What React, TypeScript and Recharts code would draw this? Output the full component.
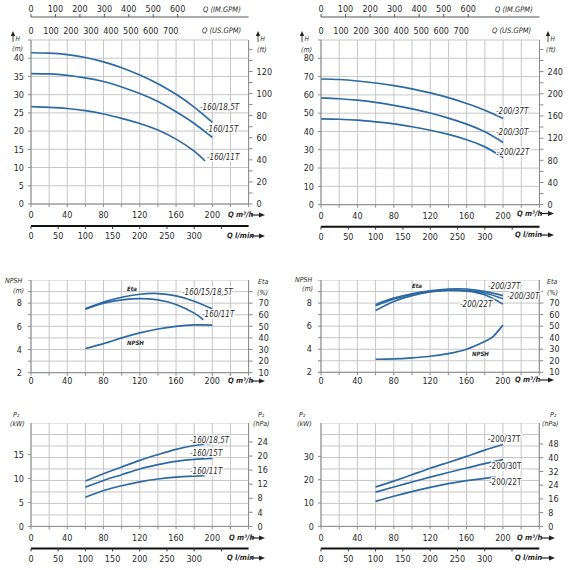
import React from 'react';
import { LineChart, Line, XAxis, YAxis, CartesianGrid } from 'recharts';

// flow points, m3/h
const qH = [0, 20, 40, 60, 80, 100, 120, 140, 160, 180, 200];
const qH11 = [0, 20, 40, 60, 80, 100, 120, 140, 160, 180, 192];
const qE = [60, 80, 100, 120, 140, 160, 180, 200];
const qE11 = [60, 80, 100, 120, 140, 160, 180, 190];
const qNpsh200 = [60, 80, 100, 120, 140, 160, 180, 190, 200];
const qP11 = [60, 80, 100, 120, 140, 160, 180, 192];

// head, m
const h160_185 = [41.5, 41.4, 41.0, 40.2, 39.0, 37.4, 35.4, 33.0, 30.1, 26.6, 22.4];
const h160_15 = [35.8, 35.7, 35.3, 34.6, 33.6, 32.1, 30.3, 28.1, 25.3, 22.1, 18.3];
const h160_11 = [26.7, 26.5, 26.2, 25.6, 24.7, 23.5, 22.1, 20.3, 17.8, 14.5, 11.8];
const h200_37 = [68.7, 68.4, 67.6, 66.5, 65.1, 63.3, 61.1, 58.5, 55.3, 51.6, 47.1];
const h200_30 = [58.4, 57.9, 57.1, 55.9, 54.3, 52.4, 50.1, 47.3, 44.0, 39.8, 34.0];
const h200_22 = [46.9, 46.7, 46.2, 45.3, 44.2, 42.6, 40.7, 38.4, 35.5, 31.6, 25.8];

// efficiency, %
const eta160_15 = [65.1, 70.9, 75.1, 77.7, 78.3, 76.3, 71.7, 65.1];
const eta160_11 = [64.9, 70.0, 72.9, 74.0, 72.9, 68.9, 61.4, 55.7];
const eta200_37 = [68.8, 74.3, 78.1, 80.7, 82.2, 82.2, 80.1, 76.4];
const eta200_30 = [67.7, 73.5, 77.5, 80.1, 81.3, 81.0, 78.7, 73.8];
const eta200_22 = [63.6, 71.4, 76.4, 79.6, 81.0, 80.4, 77.2, 69.1];

// NPSH, m
const npsh160 = [4.09, 4.51, 5.0, 5.43, 5.77, 6.0, 6.12, 6.11];
const npsh200 = [3.13, 3.16, 3.25, 3.39, 3.62, 4.0, 4.67, 5.16, 6.09];

// shaft power P2, kW
const p160_185 = [9.5, 11.0, 12.4, 13.8, 15.0, 16.1, 16.9, 17.4];
const p160_15 = [8.2, 9.6, 10.8, 12.0, 12.9, 13.6, 14.0, 14.2];
const p160_11 = [6.1, 7.5, 8.5, 9.3, 9.9, 10.3, 10.5, 10.6];
const p200_37 = [16.9, 19.4, 22.1, 24.9, 27.4, 30.0, 32.7, 35.1];
const p200_30 = [14.7, 16.9, 19.0, 21.1, 23.1, 25.0, 26.9, 28.6];
const p200_22 = [10.7, 12.9, 14.9, 16.7, 18.3, 19.6, 20.6, 21.1];

// tick lists
const qTicks = [0, 20, 40, 60, 80, 100, 120, 140, 160, 180, 200, 220, 240];
const lminTicks = [0, 50, 100, 150, 200, 250, 300, 350];
const imTicks = [0, 100, 200, 300, 400, 500, 600];
const usTicks = [0, 100, 200, 300, 400, 500, 600, 700];

const IM_MAX = 890;
const US_MAX = 1090;
const LMIN_MAX = 400;

const pts = (q: number[], v: number[]) => q.map((x, i) => ({ q: x, v: v[i] }));

const FONT = "'Liberation Sans Narrow', 'DejaVu Sans Condensed', 'Arial Narrow', sans-serif";
const CURVE = '#2d6aa3';
const GRID = '#c6c6c6';
const AX = '#8a8a8a';
const TXT = '#2a2a2a';
const LW = 32;
const RW = 32;

// axis ids are named so that both id order and declaration order
// put "a_" axes next to the plot
const Q_ID = 'a_q';
const LMIN_ID = 'b_lmin';
const US_ID = 'a_us';
const IM_ID = 'b_im';

type AxisCfg = {
  domain: [number, number];
  ticks: number[];
  fmt: (v: number) => string;
  size: number;
  margin: number;
};

type PanelCfg = {
  x0: number; x1: number; y0: number; y1: number;
  gpm: boolean;
  lmin: boolean;
  qGap: [number, number];
  hDiv: number;
  left: AxisCfg;
  right: AxisCfg;
  series: { data: { q: number; v: number }[]; axis: 'l' | 'r' }[];
};

const tickStyle = { fontSize: 9, fill: TXT, fontFamily: FONT };

// invisible span so that the secondary flow axes get a domain
const HiddenSpan = ({ id, max, y }: { id: string; max: number; y: number }) => (
  <Line key={'h' + id} xAxisId={id} yAxisId="l" data={[{ q: 0, v: y }, { q: max, v: y }]} dataKey="v"
    stroke="none" dot={false} activeDot={false} legendType="none" isAnimationActive={false} />
);

const Panel = ({ c }: { c: PanelCfg }) => {
  const topH = c.gpm ? 40 : 0;
  const botH = c.lmin ? 22 + 16 : 20;
  const pw = c.x1 - c.x0;
  const ph = c.y1 - c.y0;
  const vPts = Array.from({ length: 13 }, (_, i) => LW + (pw * i) / 12);
  const hPts = Array.from({ length: c.hDiv + 1 }, (_, i) => topH + (ph * i) / c.hDiv);
  const y = c.left.domain[0];
  return (
    <div style={{ position: 'absolute', left: c.x0 - LW, top: c.y0 - topH }}>
      <LineChart
        width={pw + LW + RW}
        height={ph + topH + botH}
        margin={{ top: 0, right: 0, bottom: 0, left: 0 }}
        style={{ overflow: 'visible' }}
      >
        <CartesianGrid stroke={GRID} verticalPoints={vPts} horizontalPoints={hPts} />
        {c.gpm && (
          <XAxis xAxisId={IM_ID} dataKey="q" orientation="top" type="number" domain={[0, IM_MAX]} ticks={imTicks}
            interval={0} height={17} axisLine={{ stroke: '#555' }} tickLine={{ stroke: '#555' }}
            tickSize={3} tickMargin={2} tick={tickStyle} allowDataOverflow />
        )}
        {c.gpm && (
          <XAxis xAxisId={US_ID} dataKey="q" orientation="top" type="number" domain={[0, US_MAX]} ticks={usTicks}
            interval={0} height={23} axisLine={false} tickLine={false} tickSize={0} tickMargin={6}
            tick={tickStyle} allowDataOverflow />
        )}
        {c.lmin && (
          <XAxis xAxisId={LMIN_ID} dataKey="q" type="number" domain={[0, LMIN_MAX]} ticks={lminTicks} interval={0}
            height={16} axisLine={{ stroke: '#111', strokeWidth: 2 }} tickLine={{ stroke: '#333' }}
            tickSize={3} tickMargin={4} tick={tickStyle} allowDataOverflow
            tickFormatter={(v: number) => (v <= 300 ? String(v) : '')} />
        )}
        <XAxis xAxisId={Q_ID} dataKey="q" type="number" domain={[0, 240]} ticks={qTicks} interval={0}
          height={c.lmin ? 22 : 20} axisLine={{ stroke: AX }} tickLine={{ stroke: AX }}
          tickSize={c.qGap[0]} tickMargin={c.qGap[1]} tick={tickStyle} allowDataOverflow
          tickFormatter={(v: number) => (v % 40 === 0 && v <= 200 ? String(v) : '')} />
        <YAxis yAxisId="l" orientation="left" type="number" width={LW} domain={c.left.domain}
          ticks={c.left.ticks} interval={0} axisLine={{ stroke: AX }} tickLine={{ stroke: AX }}
          tickSize={c.left.size} tickMargin={c.left.margin} tick={tickStyle}
          tickFormatter={c.left.fmt} allowDataOverflow />
        <YAxis yAxisId="r" orientation="right" type="number" width={RW} domain={c.right.domain}
          ticks={c.right.ticks} interval={0} axisLine={{ stroke: AX }} tickLine={{ stroke: AX }}
          tickSize={c.right.size} tickMargin={c.right.margin} tick={tickStyle}
          tickFormatter={c.right.fmt} allowDataOverflow />
        {c.gpm && HiddenSpan({ id: US_ID, max: US_MAX, y })}
        {c.gpm && HiddenSpan({ id: IM_ID, max: IM_MAX, y })}
        {c.lmin && HiddenSpan({ id: LMIN_ID, max: LMIN_MAX, y })}
        {c.series.map((s, i) => (
          <Line key={i} xAxisId={Q_ID} yAxisId={s.axis} data={s.data} dataKey="v" type="natural"
            stroke={CURVE} strokeWidth={1.7} dot={false} activeDot={false} isAnimationActive={false} />
        ))}
      </LineChart>
    </div>
  );
};

const range = (a: number, b: number, s: number) => {
  const out: number[] = [];
  for (let v = a; v <= b + 1e-9; v += s) out.push(v);
  return out;
};

const panels: PanelCfg[] = [
  {
    x0: 30.7, x1: 248.3, y0: 40, y1: 204, gpm: true, lmin: true, qGap: [3, 5], hDiv: 9,
    left: { domain: [0, 45], ticks: range(0, 45, 5), fmt: v => (v <= 40 ? String(v) : ''), size: 3, margin: 4 },
    right: { domain: [0, 148.5], ticks: range(0, 140, 10), fmt: v => (v % 20 === 0 && v <= 120 ? String(v) : ''), size: 4, margin: 4 },
    series: [
      { data: pts(qH, h160_185), axis: 'l' },
      { data: pts(qH, h160_15), axis: 'l' },
      { data: pts(qH11, h160_11), axis: 'l' },
    ],
  },
  {
    x0: 320.5, x1: 539, y0: 40, y1: 204.7, gpm: true, lmin: true, qGap: [3, 5], hDiv: 9,
    left: { domain: [0, 90], ticks: range(0, 90, 10), fmt: v => (v <= 80 ? String(v) : ''), size: 3, margin: 4 },
    right: { domain: [0, 297], ticks: range(0, 280, 20), fmt: v => (v % 40 === 0 && v <= 240 ? String(v) : ''), size: 4, margin: 4 },
    series: [
      { data: pts(qH, h200_37), axis: 'l' },
      { data: pts(qH, h200_30), axis: 'l' },
      { data: pts(qH, h200_22), axis: 'l' },
    ],
  },
  {
    x0: 30.7, x1: 248.3, y0: 280, y1: 372.7, gpm: false, lmin: false, qGap: [3, 2], hDiv: 8,
    left: { domain: [2, 10], ticks: range(2, 10, 1), fmt: v => (v % 2 === 0 && v <= 8 ? String(v) : ''), size: 3, margin: 6 },
    right: { domain: [10, 90], ticks: range(10, 80, 10), fmt: v => (v <= 70 ? String(v) : ''), size: 4, margin: 6 },
    series: [
      { data: pts(qE, eta160_15), axis: 'r' },
      { data: pts(qE11, eta160_11), axis: 'r' },
      { data: pts(qE, npsh160), axis: 'l' },
    ],
  },
  {
    x0: 320.7, x1: 539, y0: 280, y1: 372.3, gpm: false, lmin: false, qGap: [3, 2], hDiv: 8,
    left: { domain: [2, 10], ticks: range(2, 10, 1), fmt: v => (v % 2 === 0 && v <= 8 ? String(v) : ''), size: 3, margin: 6 },
    right: { domain: [10, 90], ticks: range(10, 80, 10), fmt: v => (v <= 70 ? String(v) : ''), size: 4, margin: 6 },
    series: [
      { data: pts(qE, eta200_37), axis: 'r' },
      { data: pts(qE, eta200_30), axis: 'r' },
      { data: pts(qE, eta200_22), axis: 'r' },
      { data: pts(qNpsh200, npsh200), axis: 'l' },
    ],
  },
  {
    x0: 30.7, x1: 248.3, y0: 423.3, y1: 526.7, gpm: false, lmin: true, qGap: [3, 5], hDiv: 9,
    left: { domain: [0, 21.6], ticks: [0, 5, 10, 15], fmt: v => String(v), size: 3, margin: 4 },
    right: { domain: [0, 29.4], ticks: range(0, 24, 4), fmt: v => String(v), size: 4, margin: 5 },
    series: [
      { data: pts(qE, p160_185), axis: 'l' },
      { data: pts(qE, p160_15), axis: 'l' },
      { data: pts(qP11, p160_11), axis: 'l' },
    ],
  },
  {
    x0: 320.7, x1: 539, y0: 423.3, y1: 526.7, gpm: false, lmin: true, qGap: [3, 5], hDiv: 9,
    left: { domain: [0, 44.3], ticks: [0, 10, 20, 30], fmt: v => String(v), size: 3, margin: 4 },
    right: { domain: [0, 60.2], ticks: range(0, 48, 8), fmt: v => String(v), size: 4, margin: 5 },
    series: [
      { data: pts(qE, p200_37), axis: 'l' },
      { data: pts(qE, p200_30), axis: 'l' },
      { data: pts(qP11, p200_22), axis: 'l' },
    ],
  },
];

// small text helpers for the overlay
const T = ({ x, y, s = 7.5, it = true, b = false, children }: { x: number; y: number; s?: number; it?: boolean; b?: boolean; children: React.ReactNode }) => (
  <text x={x} y={y} fontSize={s} fontStyle={it ? 'italic' : 'normal'} fontWeight={b ? 'bold' : 'normal'}
    fill={TXT} fontFamily={FONT} dominantBaseline="middle">{children}</text>
);

const CL = ({ x, y, it = true, children }: { x: number; y: number; it?: boolean; children: React.ReactNode }) => (
  <text x={x} y={y} fontSize={8} fontStyle={it ? 'italic' : 'normal'} fill={TXT} fontFamily={FONT}
    dominantBaseline="middle" stroke="#fff" strokeWidth={2.5} paintOrder="stroke">{children}</text>
);

const ArrowR = ({ x, y }: { x: number; y: number }) => (
  <g>
    <line x1={x} y1={y} x2={x + 9} y2={y} stroke="#222" strokeWidth={1.2} />
    <path d={`M${x + 8},${y - 2.5} L${x + 14},${y} L${x + 8},${y + 2.5} Z`} fill="#222" />
  </g>
);

const ArrowU = ({ x, y }: { x: number; y: number }) => (
  <g>
    <line x1={x} y1={y + 3} x2={x} y2={y + 10} stroke="#222" strokeWidth={0.8} />
    <path d={`M${x - 2.2},${y + 4} L${x},${y - 1} L${x + 2.2},${y + 4} Z`} fill="#222" />
  </g>
);

const Overlay = () => (
  <svg width={570} height={570} style={{ position: 'absolute', left: 0, top: 0, pointerEvents: 'none' }}>
    {/* top-left */}
    <T x={203} y={10}>Q (IM.GPM)</T>
    <T x={202} y={31}>Q (US.GPM)</T>
    <ArrowU x={13} y={32} />
    <T x={15.5} y={39} s={6.5}>H</T>
    <T x={12} y={49.5} s={7}>(m)</T>
    <ArrowU x={258} y={32} />
    <T x={260.5} y={39} s={6.5}>H</T>
    <T x={257} y={50} s={7}>(ft)</T>
    <CL x={200} y={107}>-160/18,5T</CL>
    <CL x={206} y={129}>-160/15T</CL>
    <CL x={207} y={157}>-160/11T</CL>
    <T x={228} y={215} s={7.5} b>Q m³/h</T>
    <ArrowR x={251} y={215} />
    <T x={227} y={236} s={7.5} b>Q l/min</T>
    <ArrowR x={251} y={236} />

    {/* top-right */}
    <T x={495} y={10}>Q (IM.GPM)</T>
    <T x={492} y={31}>Q (US.GPM)</T>
    <ArrowU x={302} y={32} />
    <T x={304.5} y={39} s={6.5}>H</T>
    <T x={301} y={50} s={7}>(m)</T>
    <ArrowU x={548} y={32} />
    <T x={550.5} y={39} s={6.5}>H</T>
    <T x={546} y={50} s={7}>(ft)</T>
    <CL x={496} y={111}>-200/37T</CL>
    <CL x={496} y={132}>-200/30T</CL>
    <CL x={497} y={152}>-200/22T</CL>
    <T x={517} y={213.5} s={7.5} b>Q m³/h</T>
    <ArrowR x={540} y={213.5} />
    <T x={515} y={235} s={7.5} b>Q l/min</T>
    <ArrowR x={540} y={235} />

    {/* middle-left */}
    <T x={5} y={281} s={7}>NPSH</T>
    <T x={13} y={291} s={7}>(m)</T>
    <T x={258} y={282} s={7}>Eta</T>
    <T x={257} y={293} s={7}>(%)</T>
    <T x={127} y={289} s={6} b>Eta</T>
    <T x={127} y={343} s={6} b>NPSH</T>
    <CL x={182} y={292}>-160/15/18,5T</CL>
    <CL x={202} y={314}>-160/11T</CL>
    <T x={228} y={381} s={7.5} b>Q m³/h</T>
    <ArrowR x={251} y={381} />

    {/* middle-right */}
    <T x={295} y={280} s={7}>NPSH</T>
    <T x={302} y={289.5} s={7}>(m)</T>
    <T x={547} y={282} s={7}>Eta</T>
    <T x={547} y={293} s={7}>(%)</T>
    <T x={412} y={286} s={6} b>Eta</T>
    <T x={472} y={354} s={6} b>NPSH</T>
    <CL x={488} y={286}>-200/37T</CL>
    <CL x={507} y={296}>-200/30T</CL>
    <CL x={460} y={304}>-200/22T</CL>
    <T x={515} y={380} s={7.5} b>Q m³/h</T>
    <ArrowR x={540} y={380} />

    {/* bottom-left */}
    <T x={13} y={415} s={7}>P₂</T>
    <T x={10} y={424} s={7}>(kW)</T>
    <T x={258} y={415} s={7}>P₂</T>
    <T x={253} y={424} s={7}>(hPa)</T>
    <CL x={190} y={440}>-160/18,5T</CL>
    <CL x={190} y={453}>-160/15T</CL>
    <CL x={190} y={471}>-160/11T</CL>
    <T x={229} y={538} s={7.5} b>Q m³/h</T>
    <ArrowR x={251} y={538} />
    <T x={227} y={558} s={7.5} b>Q l/min</T>
    <ArrowR x={251} y={558} />

    {/* bottom-right */}
    <T x={299} y={415} s={7}>P₂</T>
    <T x={297} y={424} s={7}>(kW)</T>
    <T x={550} y={415} s={7}>P₂</T>
    <T x={542} y={424} s={7}>(hPa)</T>
    <CL x={488} y={439} it={false}>-200/37T</CL>
    <CL x={489} y={466} it={false}>-200/30T</CL>
    <CL x={489} y={482} it={false}>-200/22T</CL>
    <T x={517} y={538} s={7.5} b>Q m³/h</T>
    <ArrowR x={541} y={538} />
    <T x={515} y={558} s={7.5} b>Q l/min</T>
    <ArrowR x={541} y={558} />
  </svg>
);

export default function App() {
  return (
    <div style={{ position: 'absolute', left: 0, top: 0, width: 570, height: 570, background: '#fff', fontFamily: FONT }}>
      {panels.map((p, i) => (
        <Panel key={i} c={p} />
      ))}
      <Overlay />
    </div>
  );
}
